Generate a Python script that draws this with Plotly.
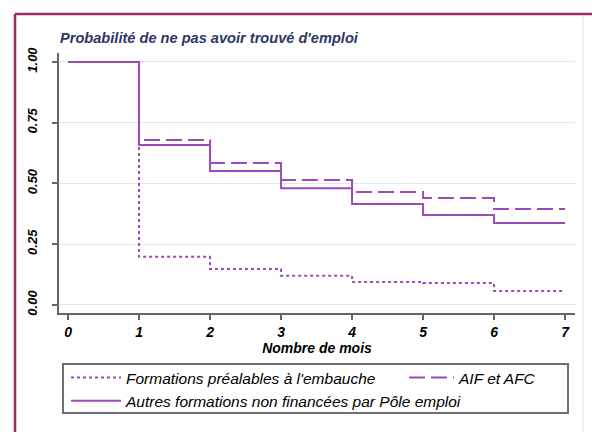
import plotly.graph_objects as go

# Durée en mois depuis la fin de formation
mois = [0, 1, 2, 3, 4, 5, 6, 7]

# Probabilité de ne pas avoir trouvé d'emploi (courbes en escalier)
prob_prealables = [1.00, 0.198, 0.148, 0.120, 0.095, 0.090, 0.058, 0.058]
prob_aif_afc = [1.00, 0.679, 0.584, 0.514, 0.465, 0.440, 0.395, 0.395]
prob_autres = [1.00, 0.658, 0.551, 0.480, 0.416, 0.370, 0.337, 0.337]

noms = [
    "Formations préalables à l'embauche",
    "AIF et AFC",
    "Autres formations non financées par Pôle emploi",
]

y_ticks = [0, 0.25, 0.5, 0.75, 1.0]
y_ticktext = ["0.00", "0.25", "0.50", "0.75", "1.00"]

violet = "#9b4db5"
police = "Liberation Sans, Arial, sans-serif"

# zone de tracé : 59..575 px en x, 53..313 px en y
PW, PH = 516, 260

fig = go.Figure()
fig.add_trace(go.Scatter(x=mois, y=prob_prealables, name=noms[0], mode="lines", legend="legend",
                         line=dict(color=violet, width=2, dash="dot", shape="hv")))
fig.add_trace(go.Scatter(x=mois, y=prob_aif_afc, name=noms[1], mode="lines", legend="legend2",
                         line=dict(color=violet, width=2, dash="16px,6px", shape="hv")))
fig.add_trace(go.Scatter(x=mois, y=prob_autres, name=noms[2], mode="lines", legend="legend",
                         line=dict(color=violet, width=2, shape="hv")))

leg_font = dict(size=15.5, style="italic", color="black")
fig.update_layout(
    width=592, height=432,
    margin=dict(l=59, r=17, t=53, b=119, autoexpand=False),
    paper_bgcolor="white", plot_bgcolor="white",
    font=dict(family=police, color="black"),
    title=dict(text="Probabilité de ne pas avoir trouvé d'emploi",
               x=60 / 592, xanchor="left", xref="container",
               y=1 - 38 / 432, yanchor="middle", yref="container",
               font=dict(size=14.6, color="#2c3766", weight="bold", style="italic")),
    showlegend=True,
    legend=dict(x=(66 - 59) / PW, xanchor="left",
                y=-(361 - 313) / PH, yanchor="top", traceorder="normal", font=leg_font,
                itemwidth=50, bgcolor="rgba(0,0,0,0)", borderwidth=0, tracegroupgap=0),
    legend2=dict(x=(404 - 59) / PW, xanchor="left",
                 y=-(361 - 313) / PH, yanchor="top", font=leg_font,
                 itemwidth=45, bgcolor="rgba(0,0,0,0)", borderwidth=0),
)

fig.update_xaxes(
    range=[-0.127, 7.14], tickvals=mois, showgrid=False, zeroline=False,
    showline=True, linecolor="#666666", linewidth=1.5,
    ticks="outside", ticklen=5, tickcolor="#666666", tickwidth=1.5,
    tickfont=dict(size=14, weight="bold", style="italic"),
    title=dict(text="Nombre de mois", standoff=2,
               font=dict(size=14, weight="bold", style="italic")),
)
fig.update_yaxes(
    range=[-0.033, 1.037], tickvals=y_ticks, ticktext=y_ticktext,
    tickangle=-90, showgrid=True, gridcolor="#dfe8ec", gridwidth=1, zeroline=False,
    showline=True, linecolor="#666666", linewidth=1.5,
    ticks="outside", ticklen=5, tickcolor="#666666", tickwidth=1.5,
    ticklabelstandoff=10,
    tickfont=dict(size=13, weight="bold", style="italic"),
)

# cadre de l'encadré
fig.add_shape(type="line", xref="paper", yref="paper",
              x0=-44 / PW, x1=1.1, y0=1 + 39 / PH, y1=1 + 39 / PH,
              line=dict(color="#9b2d63", width=2.5))
fig.add_shape(type="line", xref="paper", yref="paper",
              x0=-44 / PW, x1=-44 / PW, y0=1 + 39 / PH, y1=-0.5,
              line=dict(color="#9b2d63", width=2.5))
fig.add_shape(type="line", xref="paper", yref="paper",
              x0=1 + 8 / PW, x1=1 + 8 / PW, y0=1 + 37 / PH, y1=-0.5,
              line=dict(color="#e6ecef", width=1.5))
# cadre de la légende
fig.add_shape(type="rect", xref="paper", yref="paper",
              x0=4 / PW, x1=509 / PW, y0=-(364 - 313) / PH, y1=-(413 - 313) / PH,
              line=dict(color="#707070", width=2))

# pas de marge autour du graphique dans la page, pas de barre d'outils
fig.write_html("out.html", config={"displayModeBar": False},
               post_script="document.body.style.margin='0';")
